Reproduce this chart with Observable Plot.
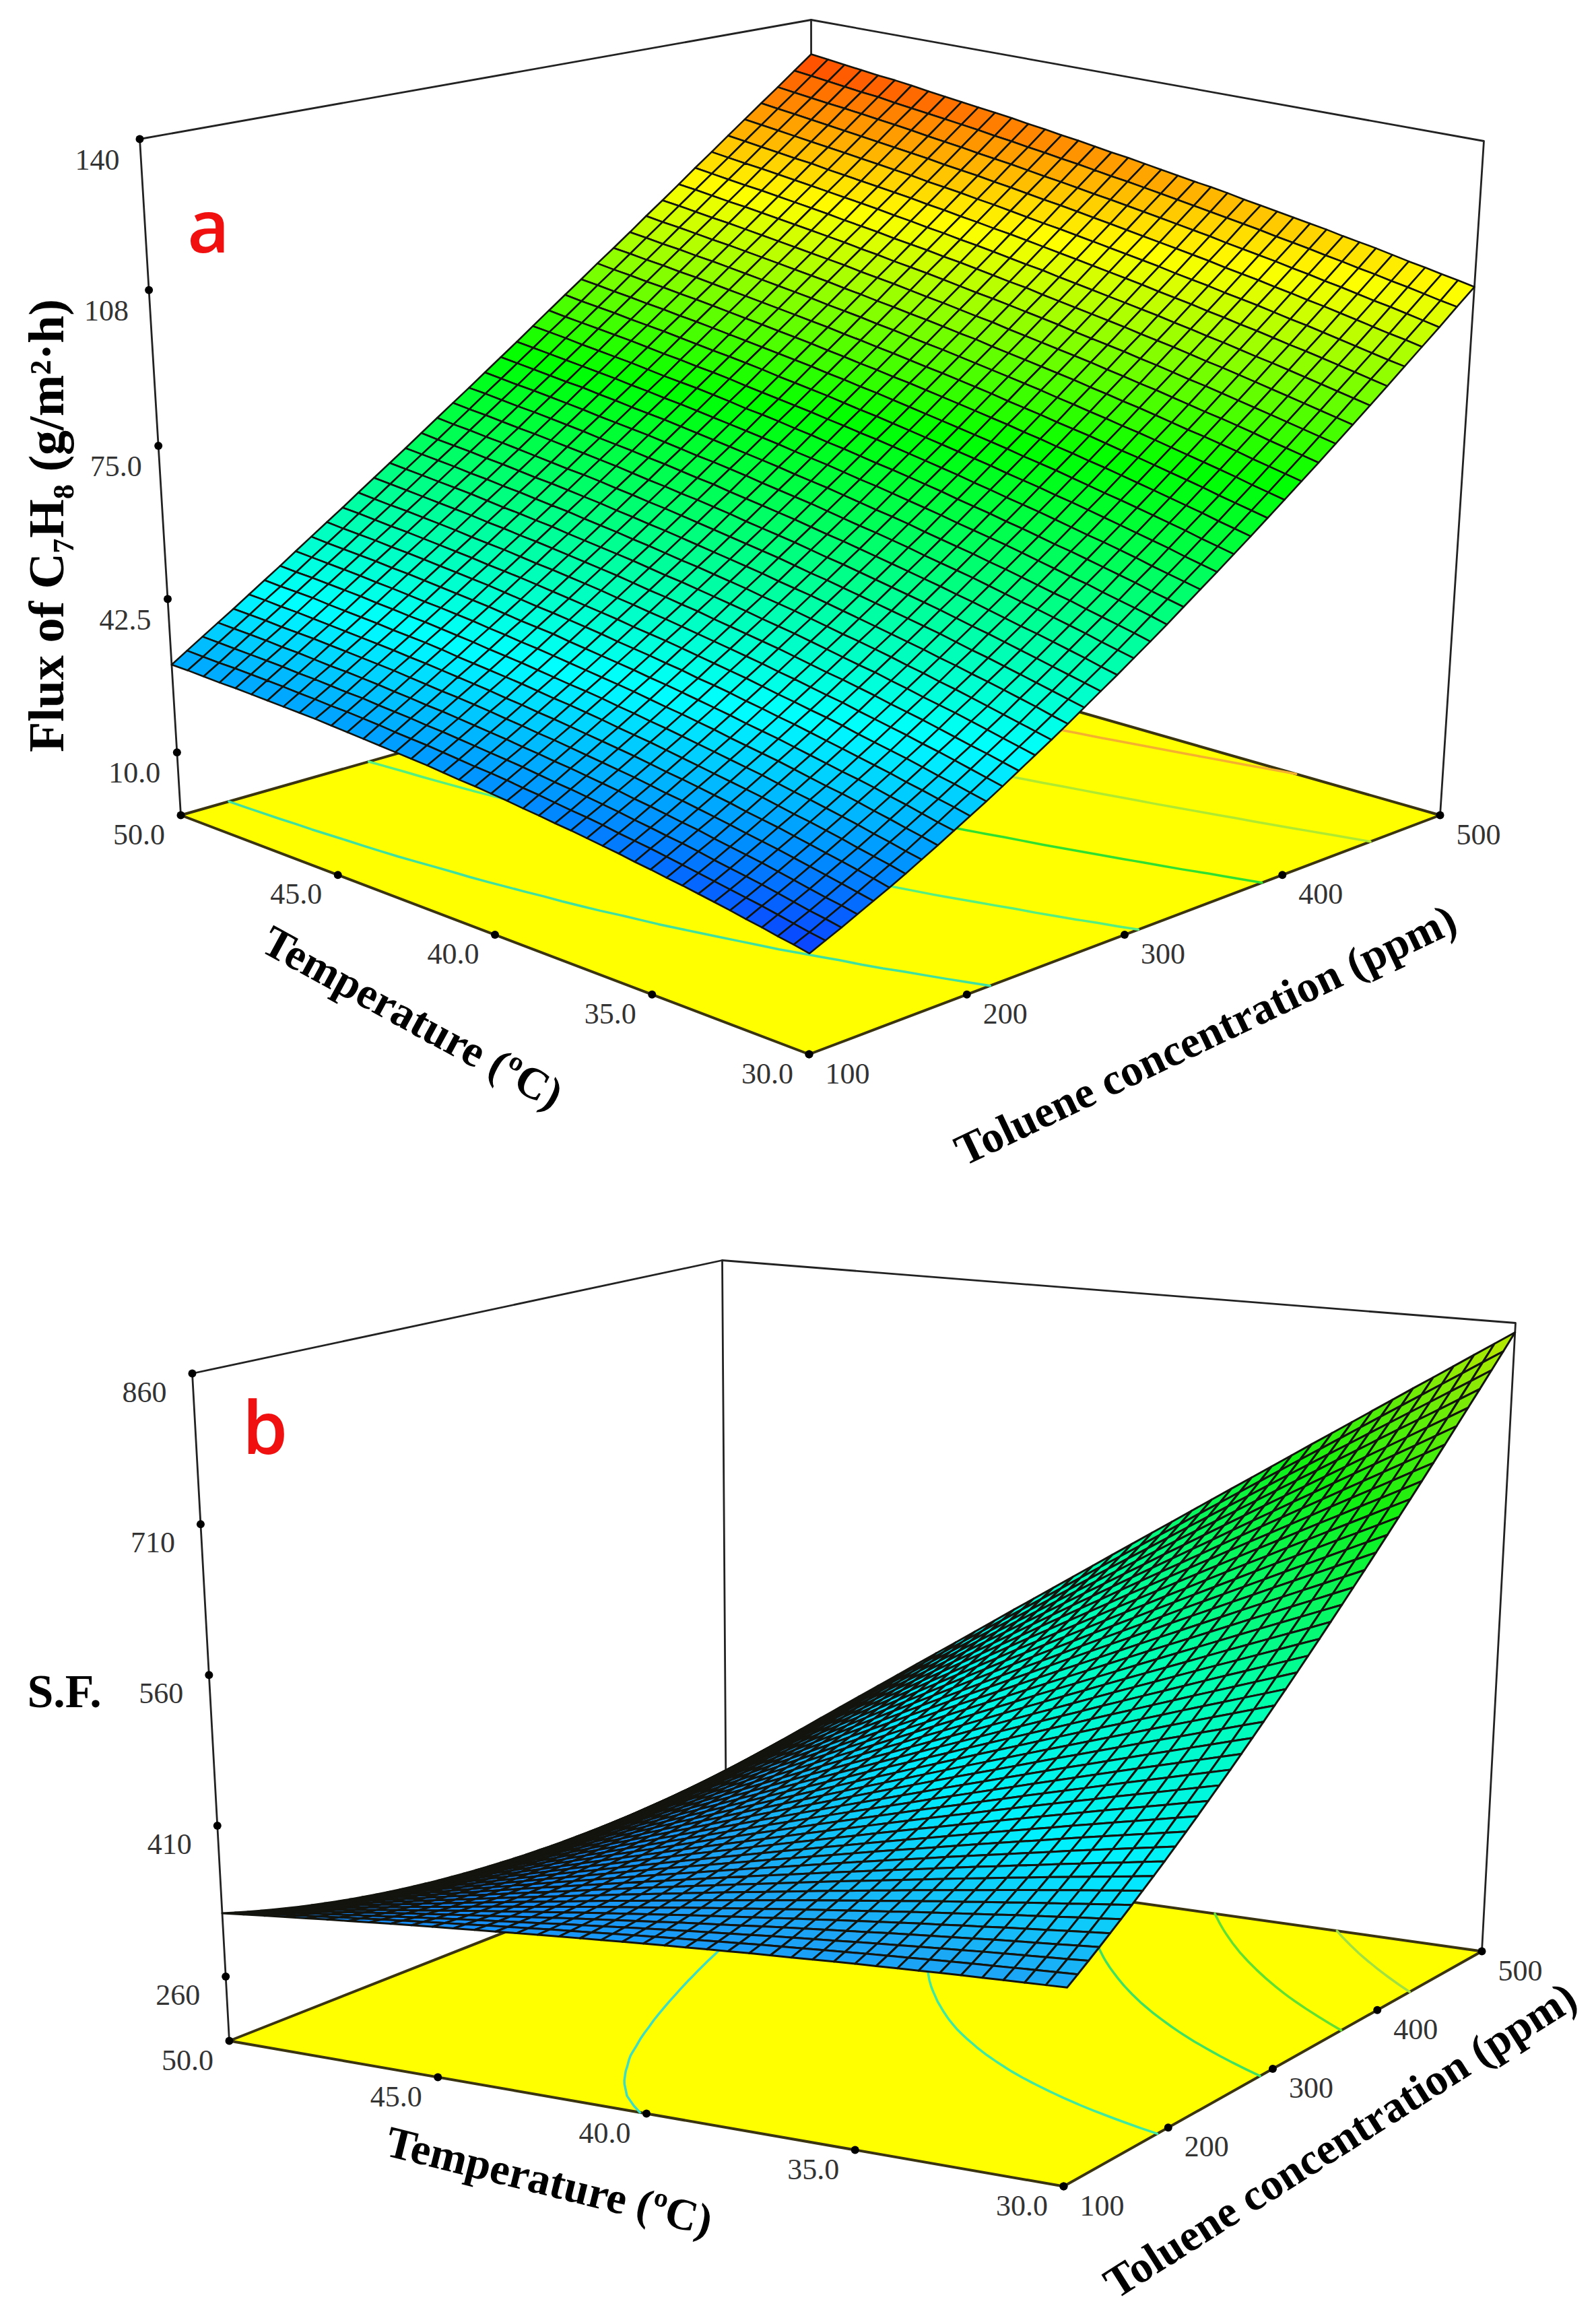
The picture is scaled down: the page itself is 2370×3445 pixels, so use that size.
<!DOCTYPE html>
<html><head><meta charset="utf-8">
<script src="https://cdn.jsdelivr.net/npm/d3@7"></script>
<script src="https://cdn.jsdelivr.net/npm/@observablehq/plot@0.6"></script>
<style>html,body{margin:0;padding:0;background:#fff}svg{display:block}</style></head>
<body><div id="chart"></div>
<script>
const W=2370;
const tempTicks=[50,45,40,35,30];
const concTicks=[100,200,300,400,500];
const fluxTicks=[10,42.5,75,108,140];
const sfTicks=[260,410,560,710,860];
const fluxLevels=[35,55,75,95,115];
const fluxLevelColors=["#3fe0a0","#55ee80","#30e030","#b0ea30","#f5b030"];
const sfLevels=[360,458,560,655,745];
const sfLevelColors=["#40dcc0","#40e8a0","#40e060","#60e030","#a0e040"];
// Estimated surface heights: rows run T = 50 to 30 °C, columns run C = 100 to 500 ppm.
const fluxRows=[
[28.6,30.7,32.8,34.9,37.0,39.2,41.4,43.6,45.9,48.2,50.5,52.8,55.2,57.6,60.0,62.4,64.9,67.4,69.9,72.4,75.0,77.6,80.2,82.9,85.6,88.3,91.0,93.8,96.5,99.3,102.2,105.0,107.9,110.9,113.8,116.8,119.8,122.8,125.8,128.9,132.0],
[28.6,30.6,32.7,34.8,36.9,39.1,41.2,43.4,45.7,47.9,50.2,52.6,54.9,57.3,59.7,62.1,64.5,67.0,69.5,72.1,74.6,77.2,79.8,82.5,85.1,87.8,90.6,93.3,96.1,98.9,101.7,104.6,107.5,110.4,113.3,116.3,119.3,122.3,125.3,128.4,131.5],
[28.5,30.5,32.6,34.7,36.8,38.9,41.1,43.3,45.5,47.7,50.0,52.3,54.6,57.0,59.4,61.8,64.2,66.7,69.2,71.7,74.2,76.8,79.4,82.1,84.7,87.4,90.1,92.9,95.6,98.4,101.3,104.1,107.0,109.9,112.8,115.8,118.8,121.8,124.8,127.9,131.0],
[28.4,30.5,32.5,34.6,36.6,38.8,41.0,43.1,45.3,47.5,49.8,52.0,54.4,56.7,59.1,61.5,63.9,66.3,68.8,71.3,73.9,76.4,79.0,81.6,84.3,87.0,89.7,92.4,95.2,98.0,100.8,103.6,106.5,109.4,112.4,115.3,118.3,121.3,124.3,127.4,130.5],
[28.4,30.4,32.4,34.4,36.5,38.6,40.7,42.9,45.1,47.3,49.5,51.8,54.1,56.4,58.8,61.1,63.5,66.0,68.4,71.0,73.5,76.0,78.6,81.2,83.9,86.5,89.2,92.0,94.7,97.5,100.3,103.2,106.1,109.0,111.9,114.8,117.8,120.8,123.9,126.9,130.0],
[28.3,30.3,32.3,34.3,36.4,38.4,40.5,42.7,44.8,47.0,49.3,51.5,53.8,56.1,58.5,60.8,63.2,65.6,68.1,70.6,73.1,75.7,78.2,80.8,83.5,86.1,88.8,91.5,94.3,97.1,99.9,102.7,105.6,108.5,111.4,114.4,117.3,120.3,123.4,126.5,129.6],
[28.2,30.2,32.1,34.1,36.2,38.2,40.3,42.4,44.6,46.8,49.0,51.2,53.5,55.8,58.1,60.4,62.8,65.2,67.7,70.2,72.7,75.2,77.8,80.4,83.0,85.7,88.3,91.1,93.8,96.6,99.4,102.2,105.1,108.0,110.9,113.8,116.8,119.8,122.9,125.9,129.1],
[28.1,30.0,32.0,33.9,36.0,38.0,40.1,42.2,44.3,46.5,48.7,50.9,53.1,55.4,57.7,60.1,62.4,64.8,67.3,69.8,72.2,74.8,77.3,79.9,82.5,85.2,87.9,90.6,93.3,96.1,98.9,101.7,104.6,107.5,110.4,113.3,116.3,119.3,122.4,125.4,128.5],
[28.0,29.9,31.8,33.8,35.8,37.8,39.8,41.9,44.0,46.2,48.4,50.6,52.8,55.1,57.4,59.7,62.1,64.4,66.9,69.3,71.8,74.3,76.9,79.4,82.1,84.7,87.4,90.1,92.8,95.6,98.4,101.2,104.1,107.0,109.9,112.8,115.8,118.8,121.9,124.9,128.0],
[27.9,29.7,31.6,33.6,35.6,37.6,39.6,41.7,43.8,45.9,48.1,50.2,52.5,54.7,57.0,59.3,61.7,64.1,66.5,68.9,71.4,73.9,76.4,79.0,81.6,84.2,86.9,89.6,92.3,95.1,97.9,100.7,103.6,106.4,109.4,112.3,115.3,118.3,121.3,124.4,127.5],
[27.7,29.6,31.5,33.4,35.4,37.3,39.4,41.4,43.5,45.6,47.8,49.9,52.1,54.4,56.7,59.0,61.3,63.7,66.1,68.5,71.0,73.5,76.0,78.6,81.2,83.8,86.4,89.1,91.8,94.6,97.4,100.2,103.1,105.9,108.9,111.8,114.8,117.8,120.8,123.9,127.0],
[27.5,29.4,31.2,33.1,35.1,37.1,39.1,41.1,43.2,45.3,47.4,49.6,51.7,54.0,56.2,58.5,60.9,63.2,65.6,68.0,70.5,73.0,75.5,78.1,80.7,83.3,85.9,88.6,91.3,94.1,96.9,99.7,102.5,105.4,108.3,111.3,114.2,117.2,120.3,123.4,126.5],
[27.3,29.2,31.0,32.9,34.8,36.8,38.7,40.8,42.8,44.9,47.0,49.2,51.4,53.6,55.8,58.1,60.4,62.8,65.1,67.6,70.0,72.5,75.0,77.6,80.1,82.8,85.4,88.1,90.8,93.5,96.3,99.1,102.0,104.8,107.8,110.7,113.7,116.7,119.7,122.8,126.0],
[27.1,28.9,30.8,32.6,34.5,36.5,38.4,40.4,42.5,44.5,46.6,48.8,51.0,53.2,55.4,57.7,60.0,62.3,64.7,67.1,69.5,72.0,74.5,77.0,79.6,82.2,84.9,87.6,90.3,93.0,95.8,98.6,101.4,104.3,107.2,110.2,113.2,116.2,119.2,122.3,125.4],
[26.9,28.7,30.5,32.4,34.3,36.2,38.1,40.1,42.1,44.2,46.3,48.4,50.6,52.8,55.0,57.2,59.5,61.9,64.2,66.6,69.1,71.5,74.0,76.6,79.1,81.7,84.4,87.0,89.7,92.5,95.2,98.1,100.9,103.8,106.7,109.6,112.6,115.6,118.7,121.7,124.9],
[26.7,28.5,30.3,32.1,34.0,35.9,37.8,39.8,41.8,43.9,45.9,48.0,50.2,52.4,54.6,56.8,59.1,61.4,63.8,66.2,68.6,71.0,73.5,76.1,78.6,81.2,83.8,86.5,89.2,91.9,94.7,97.5,100.4,103.2,106.1,109.1,112.1,115.1,118.1,121.2,124.3],
[26.5,28.2,30.0,31.8,33.7,35.5,37.5,39.4,41.4,43.4,45.5,47.6,49.7,51.9,54.1,56.3,58.6,60.9,63.3,65.6,68.1,70.5,73.0,75.5,78.1,80.7,83.3,85.9,88.6,91.4,94.1,96.9,99.8,102.7,105.6,108.5,111.5,114.5,117.5,120.6,123.8],
[26.2,27.9,29.7,31.5,33.3,35.2,37.1,39.0,41.0,43.0,45.1,47.2,49.3,51.4,53.6,55.8,58.1,60.4,62.8,65.1,67.5,70.0,72.4,75.0,77.5,80.1,82.7,85.4,88.1,90.8,93.6,96.4,99.2,102.1,105.0,108.0,110.9,113.9,117.0,120.1,123.2],
[25.9,27.6,29.4,31.2,33.0,34.8,36.7,38.6,40.6,42.6,44.6,46.7,48.8,51.0,53.2,55.4,57.6,59.9,62.2,64.6,67.0,69.4,71.9,74.4,77.0,79.5,82.2,84.8,87.5,90.2,93.0,95.8,98.6,101.5,104.4,107.4,110.3,113.4,116.4,119.5,122.6],
[25.7,27.4,29.1,30.8,32.6,34.5,36.4,38.3,40.2,42.2,44.2,46.3,48.4,50.5,52.7,54.9,57.1,59.4,61.7,64.1,66.5,68.9,71.4,73.9,76.4,79.0,81.6,84.3,86.9,89.7,92.4,95.2,98.1,100.9,103.8,106.8,109.8,112.8,115.8,118.9,122.1],
[25.4,27.1,28.8,30.5,32.3,34.1,36.0,37.9,39.8,41.8,43.8,45.9,47.9,50.1,52.2,54.4,56.6,58.9,61.2,63.6,66.0,68.4,70.8,73.3,75.9,78.4,81.0,83.7,86.4,89.1,91.9,94.7,97.5,100.4,103.3,106.2,109.2,112.2,115.3,118.4,121.5],
[25.1,26.7,28.4,30.1,31.9,33.7,35.6,37.4,39.4,41.3,43.3,45.4,47.4,49.5,51.7,53.9,56.1,58.4,60.7,63.0,65.4,67.8,70.2,72.7,75.3,77.8,80.4,83.1,85.8,88.5,91.2,94.0,96.9,99.7,102.6,105.6,108.6,111.6,114.7,117.8,120.9],
[24.7,26.4,28.0,29.8,31.5,33.3,35.1,37.0,38.9,40.9,42.9,44.9,46.9,49.0,51.2,53.3,55.5,57.8,60.1,62.4,64.8,67.2,69.7,72.2,74.7,77.2,79.8,82.5,85.2,87.9,90.6,93.4,96.3,99.1,102.0,105.0,108.0,111.0,114.1,117.2,120.3],
[24.4,26.0,27.7,29.4,31.1,32.9,34.7,36.5,38.4,40.4,42.3,44.4,46.4,48.5,50.6,52.8,55.0,57.2,59.5,61.9,64.2,66.6,69.1,71.6,74.1,76.6,79.2,81.9,84.6,87.3,90.0,92.8,95.7,98.5,101.4,104.4,107.4,110.4,113.5,116.6,119.7],
[24.0,25.6,27.3,29.0,30.7,32.5,34.3,36.1,38.0,39.9,41.9,43.9,45.9,48.0,50.1,52.3,54.5,56.7,59.0,61.3,63.7,66.1,68.5,71.0,73.5,76.0,78.6,81.3,83.9,86.7,89.4,92.2,95.0,97.9,100.8,103.8,106.8,109.8,112.9,116.0,119.2],
[23.7,25.3,26.9,28.6,30.3,32.0,33.8,35.6,37.5,39.4,41.4,43.4,45.4,47.5,49.6,51.7,53.9,56.1,58.4,60.7,63.1,65.5,67.9,70.4,72.9,75.4,78.0,80.7,83.3,86.1,88.8,91.6,94.4,97.3,100.2,103.2,106.2,109.2,112.3,115.4,118.6],
[23.3,24.9,26.5,28.1,29.8,31.5,33.3,35.1,37.0,38.9,40.8,42.8,44.8,46.9,49.0,51.1,53.3,55.5,57.8,60.1,62.5,64.8,67.3,69.7,72.2,74.8,77.4,80.0,82.7,85.4,88.2,91.0,93.8,96.7,99.6,102.5,105.5,108.6,111.7,114.8,117.9],
[22.9,24.4,26.0,27.7,29.3,31.1,32.8,34.6,36.4,38.3,40.3,42.2,44.3,46.3,48.4,50.5,52.7,54.9,57.2,59.5,61.8,64.2,66.6,69.1,71.6,74.1,76.7,79.4,82.0,84.8,87.5,90.3,93.2,96.0,99.0,101.9,104.9,108.0,111.0,114.2,117.3],
[22.5,24.0,25.6,27.2,28.9,30.6,32.3,34.1,35.9,37.8,39.7,41.7,43.7,45.7,47.8,50.0,52.1,54.3,56.6,58.9,61.2,63.6,66.0,68.5,70.9,73.5,76.1,78.7,81.4,84.1,86.9,89.7,92.5,95.4,98.3,101.3,104.3,107.3,110.4,113.6,116.7],
[22.0,23.6,25.1,26.7,28.4,30.1,31.8,33.6,35.4,37.3,39.2,41.1,43.1,45.2,47.2,49.4,51.5,53.7,56.0,58.3,60.6,63.0,65.4,67.8,70.3,72.9,75.5,78.1,80.8,83.5,86.2,89.0,91.9,94.8,97.7,100.6,103.6,106.7,109.8,112.9,116.1],
[21.6,23.1,24.7,26.3,27.9,29.6,31.3,33.1,34.9,36.7,38.6,40.6,42.6,44.6,46.7,48.8,50.9,53.1,55.4,57.6,60.0,62.3,64.8,67.2,69.7,72.2,74.8,77.4,80.1,82.8,85.6,88.4,91.2,94.1,97.0,100.0,103.0,106.1,109.2,112.3,115.5],
[21.1,22.6,24.2,25.7,27.4,29.0,30.8,32.5,34.3,36.1,38.0,40.0,41.9,44.0,46.0,48.1,50.3,52.5,54.7,57.0,59.3,61.7,64.1,66.5,69.0,71.6,74.1,76.8,79.4,82.2,84.9,87.7,90.5,93.4,96.4,99.3,102.4,105.4,108.5,111.7,114.9],
[20.7,22.1,23.6,25.2,26.8,28.5,30.2,31.9,33.7,35.5,37.4,39.3,41.3,43.3,45.4,47.5,49.6,51.8,54.0,56.3,58.6,61.0,63.4,65.8,68.3,70.9,73.4,76.1,78.8,81.5,84.2,87.0,89.9,92.8,95.7,98.7,101.7,104.8,107.9,111.0,114.2],
[20.2,21.6,23.1,24.7,26.3,28.0,29.6,31.4,33.1,34.9,36.8,38.7,40.7,42.7,44.7,46.8,49.0,51.1,53.4,55.6,57.9,60.3,62.7,65.2,67.6,70.2,72.8,75.4,78.1,80.8,83.5,86.3,89.2,92.1,95.0,98.0,101.0,104.1,107.2,110.4,113.6],
[19.7,21.1,22.6,24.2,25.8,27.4,29.1,30.8,32.6,34.4,36.2,38.1,40.1,42.1,44.1,46.2,48.3,50.5,52.7,54.9,57.3,59.6,62.0,64.5,67.0,69.5,72.1,74.7,77.4,80.1,82.9,85.7,88.5,91.4,94.4,97.3,100.4,103.5,106.6,109.7,113.0],
[19.2,20.6,22.1,23.6,25.2,26.8,28.5,30.2,32.0,33.8,35.6,37.5,39.4,41.4,43.5,45.5,47.7,49.8,52.0,54.3,56.6,59.0,61.4,63.8,66.3,68.8,71.4,74.0,76.7,79.4,82.2,85.0,87.8,90.7,93.7,96.7,99.7,102.8,105.9,109.1,112.3],
[18.6,20.1,21.5,23.0,24.6,26.2,27.9,29.6,31.3,33.1,34.9,36.8,38.8,40.7,42.8,44.8,47.0,49.1,51.3,53.6,55.9,58.2,60.6,63.1,65.6,68.1,70.7,73.3,76.0,78.7,81.5,84.3,87.1,90.0,93.0,96.0,99.0,102.1,105.2,108.4,111.6],
[18.1,19.5,20.9,22.4,24.0,25.6,27.2,28.9,30.7,32.5,34.3,36.1,38.1,40.0,42.1,44.1,46.3,48.4,50.6,52.9,55.2,57.5,59.9,62.4,64.8,67.4,70.0,72.6,75.2,78.0,80.7,83.5,86.4,89.3,92.3,95.3,98.3,101.4,104.6,107.8,111.0],
[17.5,18.9,20.3,21.8,23.4,25.0,26.6,28.3,30.0,31.8,33.6,35.5,37.4,39.4,41.4,43.4,45.6,47.7,49.9,52.2,54.4,56.8,59.2,61.6,64.1,66.6,69.2,71.8,74.5,77.2,80.0,82.8,85.7,88.6,91.6,94.6,97.6,100.7,103.9,107.1,110.3],
[17.0,18.3,19.8,21.3,22.8,24.4,26.0,27.6,29.4,31.1,33.0,34.8,36.7,38.7,40.7,42.7,44.8,47.0,49.2,51.4,53.7,56.1,58.5,60.9,63.4,65.9,68.5,71.1,73.8,76.5,79.3,82.1,85.0,87.9,90.9,93.9,96.9,100.1,103.2,106.4,109.7],
[16.4,17.8,19.2,20.7,22.2,23.7,25.3,27.0,28.7,30.5,32.3,34.1,36.0,38.0,40.0,42.0,44.1,46.3,48.5,50.7,53.0,55.3,57.7,60.2,62.7,65.2,67.8,70.4,73.1,75.8,78.6,81.4,84.3,87.2,90.2,93.2,96.3,99.4,102.5,105.8,109.0]
];
const sfRows=[
[323.0,319.2,315.5,311.9,308.5,305.3,302.1,299.1,296.3,293.6,291.0,288.6,286.3,284.1,282.1,280.3,278.5,276.9,275.5,274.2,273.0,272.0,271.1,270.3,269.7,269.3,268.9,268.7,268.7,268.8,269.0,269.4,269.9,270.5,271.3,272.3,273.3,274.5,275.9,277.4,279.0],
[325.2,321.7,318.3,315.0,311.9,308.9,306.1,303.4,300.8,298.4,296.2,294.0,292.0,290.2,288.5,286.9,285.5,284.2,283.1,282.1,281.3,280.5,280.0,279.6,279.3,279.1,279.1,279.3,279.5,280.0,280.5,281.2,282.1,283.1,284.2,285.5,286.9,288.5,290.2,292.0,294.0],
[327.4,324.2,321.0,318.1,315.2,312.6,310.0,307.6,305.4,303.2,301.3,299.4,297.8,296.2,294.8,293.6,292.5,291.5,290.7,290.0,289.5,289.1,288.8,288.7,288.8,289.0,289.3,289.8,290.4,291.1,292.1,293.1,294.3,295.6,297.1,298.7,300.5,302.4,304.4,306.6,309.0],
[329.6,326.6,323.8,321.1,318.5,316.1,313.9,311.8,309.8,308.0,306.3,304.8,303.4,302.2,301.1,300.2,299.4,298.7,298.2,297.9,297.7,297.6,297.7,297.9,298.3,298.8,299.4,300.2,301.2,302.3,303.5,304.9,306.4,308.1,309.9,311.9,314.0,316.3,318.7,321.2,323.9],
[331.7,329.0,326.5,324.1,321.8,319.7,317.7,315.9,314.3,312.8,311.4,310.2,309.1,308.2,307.4,306.8,306.3,305.9,305.7,305.7,305.8,306.1,306.5,307.0,307.7,308.5,309.5,310.7,311.9,313.4,314.9,316.7,318.5,320.6,322.7,325.0,327.5,330.1,332.9,335.8,338.8],
[333.8,331.4,329.1,327.0,325.0,323.2,321.6,320.0,318.7,317.5,316.4,315.5,314.7,314.1,313.6,313.3,313.1,313.1,313.2,313.5,313.9,314.5,315.2,316.1,317.1,318.3,319.6,321.0,322.7,324.4,326.3,328.4,330.6,333.0,335.5,338.1,340.9,343.9,347.0,350.3,353.7],
[335.8,333.7,331.7,329.9,328.2,326.7,325.4,324.1,323.1,322.2,321.4,320.8,320.3,320.0,319.8,319.8,319.9,320.2,320.6,321.2,322.0,322.9,323.9,325.1,326.5,328.0,329.6,331.3,333.4,335.4,337.6,340.1,342.6,345.4,348.2,351.2,354.3,357.6,361.1,364.8,368.5],
[337.8,336.0,334.3,332.8,331.3,330.1,329.1,328.1,327.4,326.8,326.3,326.0,325.8,325.8,325.9,326.3,326.7,327.3,328.0,328.9,330.0,331.2,332.6,334.1,335.8,337.6,339.6,341.6,344.0,346.4,348.9,351.7,354.6,357.7,360.9,364.2,367.7,371.3,375.2,379.2,383.3],
[339.8,338.3,336.8,335.6,334.4,333.5,332.8,332.1,331.7,331.4,331.2,331.2,331.3,331.6,332.0,332.7,333.4,334.3,335.4,336.6,338.0,339.5,341.2,343.1,345.1,347.2,349.5,351.9,354.6,357.3,360.2,363.3,366.5,370.0,373.5,377.2,381.0,385.0,389.2,393.6,398.0],
[341.7,340.5,339.3,338.4,337.5,336.9,336.5,336.1,336.0,336.0,336.1,336.4,336.8,337.4,338.1,339.1,340.1,341.3,342.7,344.2,346.0,347.8,349.8,352.0,354.4,356.8,359.4,362.1,365.2,368.2,371.4,374.9,378.4,382.3,386.1,390.2,394.3,398.6,403.2,407.9,412.7],
[343.6,342.6,341.8,341.1,340.6,340.3,340.1,340.0,340.1,340.4,340.9,341.4,342.2,343.1,344.2,345.4,346.8,348.3,350.0,351.9,353.9,356.1,358.4,360.9,363.5,366.3,369.3,372.4,375.7,379.1,382.7,386.5,390.4,394.5,398.7,403.1,407.6,412.3,417.2,422.2,427.4],
[345.4,344.7,344.2,343.7,343.5,343.5,343.6,343.8,344.2,344.8,345.6,346.4,347.5,348.7,350.1,351.6,353.3,355.2,357.2,359.4,361.7,364.2,366.8,369.7,372.6,375.7,379.1,382.5,386.1,389.9,393.8,397.9,402.2,406.6,411.2,415.9,420.8,425.8,431.0,436.4,442.0],
[347.2,346.8,346.5,346.4,346.5,346.7,347.1,347.6,348.3,349.2,350.3,351.4,352.8,354.3,356.0,357.9,359.9,362.0,364.4,366.9,369.5,372.3,375.3,378.4,381.7,385.1,388.8,392.6,396.5,400.6,404.9,409.3,413.9,418.7,423.6,428.7,433.9,439.3,444.9,450.6,456.5],
[348.9,348.8,348.9,349.0,349.4,350.0,350.6,351.5,352.5,353.6,355.0,356.5,358.1,360.0,362.0,364.1,366.4,368.9,371.5,374.3,377.3,380.5,383.7,387.2,390.8,394.6,398.6,402.6,407.0,411.4,416.0,420.8,425.7,430.8,436.1,441.5,447.1,452.8,458.7,464.8,471.1],
[350.7,350.9,351.2,351.7,352.4,353.2,354.1,355.3,356.6,358.0,359.7,361.5,363.4,365.6,367.9,370.4,373.0,375.7,378.7,381.8,385.1,388.6,392.2,395.9,399.9,404.0,408.3,412.7,417.4,422.1,427.1,432.2,437.4,442.9,448.5,454.3,460.2,466.3,472.6,479.0,485.6],
[352.5,353.0,353.6,354.3,355.3,356.4,357.6,359.1,360.7,362.4,364.4,366.5,368.7,371.2,373.8,376.6,379.5,382.6,385.9,389.3,392.9,396.7,400.6,404.7,409.0,413.4,418.1,422.8,427.8,432.9,438.2,443.6,449.2,455.0,461.0,467.1,473.4,479.8,486.4,493.2,500.2],
[354.1,354.9,355.8,356.8,358.0,359.4,360.9,362.7,364.6,366.6,368.9,371.3,373.8,376.6,379.5,382.6,385.9,389.3,392.9,396.6,400.5,404.6,408.9,413.3,417.9,422.6,427.7,432.7,438.0,443.5,449.1,454.8,460.8,466.9,473.3,479.7,486.4,493.1,500.1,507.2,514.6],
[355.7,356.7,357.9,359.2,360.8,362.4,364.2,366.3,368.5,370.8,373.4,376.1,378.9,382.0,385.2,388.7,392.3,396.0,399.9,403.9,408.1,412.5,417.1,421.9,426.8,431.8,437.2,442.6,448.3,454.1,460.0,466.1,472.4,478.8,485.5,492.3,499.3,506.4,513.7,521.2,528.9],
[357.3,358.6,360.1,361.7,363.5,365.4,367.6,369.9,372.4,375.1,377.9,380.9,384.1,387.5,391.0,394.7,398.6,402.6,406.8,411.2,415.8,420.5,425.4,430.5,435.7,441.1,446.8,452.5,458.5,464.6,470.9,477.3,484.0,490.8,497.8,504.9,512.3,519.7,527.4,535.2,543.3],
[358.9,360.4,362.2,364.1,366.3,368.5,370.9,373.6,376.3,379.3,382.4,385.7,389.2,392.9,396.7,400.8,404.9,409.3,413.8,418.5,423.4,428.5,433.6,439.0,444.6,450.4,456.3,462.4,468.8,475.1,481.8,488.6,495.5,502.7,510.0,517.6,525.2,533.1,541.0,549.3,557.6],
[360.5,362.3,364.4,366.6,369.0,371.5,374.2,377.2,380.2,383.5,386.9,390.5,394.3,398.3,402.4,406.8,411.3,415.9,420.8,425.8,431.0,436.4,441.9,447.6,453.6,459.6,465.9,472.3,479.0,485.7,492.7,499.8,507.1,514.6,522.3,530.2,538.2,546.4,554.7,563.3,572.0],
[361.9,364.0,366.4,368.9,371.5,374.3,377.3,380.6,383.9,387.5,391.2,395.1,399.2,403.5,408.0,412.7,417.5,422.4,427.6,432.9,438.4,444.1,450.0,456.0,462.3,468.7,475.3,482.0,489.0,496.1,503.4,510.9,518.5,526.3,534.4,542.6,551.0,559.5,568.2,577.1,586.2],
[363.3,365.7,368.4,371.2,374.1,377.2,380.5,384.0,387.7,391.5,395.6,399.8,404.2,408.8,413.5,418.5,423.6,428.9,434.4,440.0,445.9,451.9,458.1,464.4,471.0,477.8,484.7,491.7,499.1,506.5,514.1,522.0,529.9,538.1,546.5,555.0,563.7,572.6,581.7,590.9,600.4],
[364.7,367.4,370.3,373.4,376.6,380.0,383.6,387.5,391.4,395.6,399.9,404.4,409.1,414.0,419.1,424.4,429.8,435.3,441.2,447.2,453.3,459.6,466.1,472.8,479.8,486.8,494.0,501.5,509.1,516.8,524.9,533.0,541.3,549.8,558.5,567.4,576.5,585.8,595.1,604.8,614.5],
[366.1,369.1,372.3,375.7,379.2,382.9,386.8,390.9,395.2,399.6,404.3,409.1,414.1,419.3,424.6,430.2,435.9,441.8,448.0,454.3,460.8,467.4,474.2,481.2,488.5,495.8,503.4,511.2,519.2,527.2,535.6,544.0,552.7,561.6,570.6,579.9,589.2,598.9,608.6,618.6,628.7],
[367.5,370.8,374.3,378.0,381.7,385.7,389.9,394.3,398.9,403.6,408.6,413.7,419.0,424.5,430.2,436.1,442.1,448.3,454.8,461.4,468.2,475.1,482.3,489.6,497.2,504.9,512.8,520.9,529.2,537.6,546.3,555.1,564.1,573.3,582.7,592.3,602.0,612.0,622.1,632.4,642.9],
[368.7,372.3,376.1,380.1,384.1,388.4,392.9,397.5,402.4,407.4,412.7,418.2,423.8,429.6,435.6,441.8,448.1,454.6,461.4,468.3,475.4,482.7,490.2,497.8,505.7,513.8,522.0,530.4,539.1,547.8,556.8,566.0,575.3,584.9,594.6,604.5,614.6,624.9,635.4,646.0,656.9],
[369.9,373.8,377.9,382.1,386.5,391.0,395.8,400.8,405.9,411.3,416.9,422.6,428.5,434.6,441.0,447.4,454.1,460.9,468.0,475.2,482.7,490.3,498.1,506.0,514.3,522.7,531.2,539.9,549.0,558.0,567.3,576.8,586.5,596.4,606.5,616.8,627.2,637.8,648.7,659.7,670.9],
[371.2,375.3,379.6,384.2,388.8,393.7,398.8,404.0,409.5,415.1,421.0,427.1,433.3,439.7,446.3,453.1,460.1,467.2,474.6,482.2,489.9,497.8,506.0,514.3,522.8,531.5,540.4,549.5,558.8,568.2,577.9,587.7,597.8,608.0,618.4,629.0,639.8,650.8,662.0,673.3,684.9],
[372.4,376.8,381.4,386.2,391.2,396.3,401.7,407.3,413.1,418.9,425.2,431.5,438.0,444.7,451.7,458.7,466.0,473.5,481.2,489.1,497.2,505.4,513.8,522.5,531.4,540.3,549.6,559.0,568.6,578.4,588.4,598.5,609.0,619.5,630.3,641.3,652.4,663.7,675.3,687.0,698.9],
[373.6,378.3,383.2,388.3,393.6,399.0,404.7,410.5,416.6,422.8,429.3,436.0,442.8,449.8,457.0,464.4,472.0,479.8,487.8,496.0,504.4,513.0,521.7,530.7,539.9,549.2,558.8,568.5,578.5,588.6,598.9,609.4,620.2,631.1,642.2,653.5,665.0,676.6,688.6,700.6,712.9],
[374.6,379.6,384.8,390.2,395.8,401.5,407.5,413.6,420.0,426.5,433.3,440.2,447.3,454.7,462.2,469.9,477.8,485.9,494.2,502.7,511.5,520.4,529.4,538.7,548.2,557.9,567.8,577.8,588.2,598.6,609.2,620.1,631.2,642.5,653.9,665.5,677.4,689.4,701.7,714.0,726.7],
[375.7,380.9,386.4,392.1,397.9,404.0,410.2,416.6,423.3,430.1,437.2,444.5,451.9,459.5,467.3,475.4,483.6,492.0,500.6,509.5,518.5,527.7,537.1,546.7,556.5,566.6,576.8,587.2,597.8,608.6,619.6,630.8,642.2,653.8,665.6,677.6,689.8,702.1,714.8,727.5,740.5],
[376.7,382.3,388.0,393.9,400.1,406.4,413.0,419.7,426.7,433.8,441.2,448.7,456.4,464.4,472.5,480.8,489.4,498.1,507.1,516.2,525.6,535.1,544.8,554.8,564.9,575.2,585.8,596.5,607.5,618.6,630.0,641.4,653.2,665.2,677.3,689.6,702.1,714.9,727.8,741.0,754.3],
[377.8,383.6,389.6,395.8,402.2,408.9,415.7,422.7,430.0,437.4,445.1,453.0,461.0,469.3,477.6,486.3,495.2,504.2,513.5,523.0,532.6,542.4,552.5,562.8,573.3,583.9,594.8,605.9,617.1,628.6,640.3,652.1,664.2,676.5,689.0,701.7,714.5,727.6,740.9,754.4,768.1],
[378.8,384.9,391.2,397.7,404.4,411.4,418.5,425.8,433.4,441.1,449.1,457.2,465.5,474.1,482.8,491.8,501.0,510.3,519.9,529.7,539.7,549.8,560.2,570.8,581.6,592.6,603.8,615.2,626.8,638.6,650.6,662.8,675.2,687.9,700.7,713.7,726.9,740.4,754.0,767.8,781.9],
[379.6,386.0,392.6,399.4,406.4,413.7,421.1,428.7,436.6,444.6,452.9,461.3,469.9,478.8,487.8,497.1,506.6,516.2,526.1,536.3,546.6,557.0,567.7,578.6,589.8,601.1,612.6,624.3,636.3,648.4,660.8,673.3,686.0,699.1,712.2,725.6,739.1,753.0,766.9,781.1,795.5],
[380.5,387.1,394.0,401.1,408.4,416.0,423.7,431.6,439.7,448.1,456.6,465.3,474.3,483.5,492.8,502.4,512.2,522.1,532.4,542.9,553.4,564.2,575.2,586.5,598.0,609.6,621.4,633.5,645.8,658.2,671.0,683.8,696.9,710.2,723.7,737.4,751.3,765.5,779.8,794.4,809.1],
[381.3,388.3,395.4,402.8,410.4,418.3,426.3,434.4,442.9,451.5,460.4,469.4,478.7,488.1,497.8,507.7,517.8,528.1,538.6,549.4,560.3,571.4,582.7,594.3,606.1,618.1,630.2,642.6,655.2,668.1,681.1,694.3,707.7,721.4,735.2,749.3,763.5,778.0,792.7,807.7,822.8],
[382.2,389.4,396.8,404.5,412.4,420.5,428.9,437.3,446.0,455.0,464.1,473.4,483.1,492.8,502.8,513.0,523.4,534.0,544.9,556.0,567.1,578.6,590.3,602.2,614.2,626.6,639.1,651.8,664.7,677.9,691.2,704.8,718.5,732.6,746.8,761.2,775.7,790.6,805.6,821.0,836.4],
[383.0,390.5,398.3,406.2,414.4,422.8,431.4,440.2,449.2,458.4,467.9,477.5,487.4,497.5,507.8,518.3,529.0,539.9,551.1,562.5,574.0,585.8,597.8,610.0,622.4,635.0,647.9,660.9,674.2,687.7,701.4,715.3,729.4,743.7,758.3,773.1,788.0,803.2,818.6,834.2,850.0]
];

const bilinear=q=>(u,v)=>[0,1].map(k=>(1-v)*((1-u)*q[0][k]+u*q[1][k])+v*((1-u)*q[3][k]+u*q[2][k]));

function panel(o){
 const fl=bilinear(o.floor),tp=bilinear(o.top);
 const uOf=c=>(c-100)/400, vOf=t=>(50-t)/20, wOf=z=>(z-o.zMin)/(o.zMax-o.zMin);
 const P=(u,v,w)=>{const f=fl(u,v),t=tp(u,v);return [f[0]+(t[0]-f[0])*w,f[1]+(t[1]-f[1])*w]};
 const rows=o.rows,N=rows.length-1;
 const cells=[];
 const order=[];
 for(let j=0;j<N;j++)for(let i=0;i<N;i++)order.push([i,j]);
 order.sort((a,b)=>(b[0]-b[1])-(a[0]-a[1]));
 order.forEach(([i,j],k)=>{
  const vs=[[i,j],[i+1,j],[i+1,j+1],[i,j+1],[i,j]];
  const val=(rows[j][i]+rows[j][i+1]+rows[j+1][i]+rows[j+1][i+1])/4;
  for(const [a,b] of vs){const p=P(a/N,b/N,wOf(rows[b][a]));cells.push({x:p[0],y:p[1],id:k,val})}
 });
 const path=(pts,id=0)=>pts.map(([u,v,w])=>{const p=P(u,v,w);return {x:p[0],y:p[1],id}});
 const wall=[...path([[0,0,0],[0,0,1],[1,0,1],[1,1,1],[1,1,0]],0),...path([[1,0,1],[1,0,0]],1)];
 const floor=path([[0,0,0],[1,0,0],[1,1,0],[0,1,0],[0,0,0]]);
 const flat=rows.flat();
 const gen=d3.contours().size([N+1,N+1]);
 const iso=(L)=>{const out=[];let id=0;
  for(const poly of gen.contour(flat,L).coordinates)for(const ring of poly){
   const ok=p=>p[0]>=0.49&&p[0]<=N+.51&&p[1]>=0.49&&p[1]<=N+.51;
   let s=ring.findIndex(p=>!ok(p)); if(s<0)s=0;
   const r=[...ring.slice(s),...ring.slice(0,s)];
   let prev=false;
   for(const p of r){const k=ok(p);if(k){if(!prev)id++;const q=P((p[0]-.5)/N,(p[1]-.5)/N,0);out.push({x:q[0],y:q[1],id})}prev=k}
  }
  return out};
 const zTicks=o.zTicks.map(z=>{const p=P(0,0,wOf(z));return {x:p[0],y:p[1],t:o.zFmt(z)}});
 const tTicks=o.tTicks.map(t=>{const p=P(0,vOf(t),0);return {x:p[0],y:p[1],t:t.toFixed(1)}});
 const cTicks=o.cTicks.map(c=>{const p=P(uOf(c),1,0);return {x:p[0],y:p[1],t:String(c)}});
 const tick=(d)=>Plot.dot(d,{x:"x",y:"y",r:6,fill:"#000"});
 const lab=(d,dx,dy)=>Plot.text(d,{x:"x",y:"y",text:"t",dx,dy,fontFamily:"Liberation Serif",fontSize:44,fill:"#333"});
 const ser={fontFamily:"Liberation Serif",fontWeight:"bold",fill:"#000"};
 return Plot.plot({width:W,height:o.y1-o.y0,margin:0,
  x:{domain:[0,W],range:[0,W],axis:null},y:{domain:[o.y0,o.y1],range:[0,o.y1-o.y0],axis:null},
  color:{type:"linear",domain:o.cDomain,range:o.cRange},
  marks:[
   Plot.line(wall,{x:"x",y:"y",z:"id",stroke:"#222",strokeWidth:2.8}),
   Plot.line(floor,{x:"x",y:"y",fill:"#ffff00",stroke:"#3a3410",strokeWidth:4}),
   ...o.levels.map((L,i)=>Plot.line(iso(L),{x:"x",y:"y",z:"id",stroke:o.levelColors[i],strokeWidth:3.5})),
   Plot.line(cells,{x:"x",y:"y",z:"id",fill:"val",stroke:"#14140f",strokeWidth:o.sw}),
   tick(zTicks),tick(tTicks),tick(cTicks),
   lab(zTicks,o.zd[0],o.zd[1]),lab(tTicks,-62,29),lab(cTicks,57,29),
   ...o.titles.map(t=>Plot.text([t],{x:"x",y:"y",text:"s",rotate:"r",fontSize:t.size,...ser})),
   Plot.text([o.tag],{x:"x",y:"y",text:"s",fontFamily:"Open Sans",fontWeight:600,fontSize:o.tag.size,fill:"#f01010"})
  ]});
}
const root=document.getElementById("chart");
root.append(panel({y0:0,y1:1790,rows:fluxRows,zMin:-3.3,zMax:140,sw:2.6,
 floor:[[268,1210],[1205,943],[2138,1210],[1201,1565]],
 top:[[207,206],[1204,29],[2203,209],[1205,476]],
 zTicks:fluxTicks,zFmt:z=>z>=100?String(z):z.toFixed(1),zd:[-63,31],tTicks:tempTicks,cTicks:concTicks,
 levels:fluxLevels,levelColors:fluxLevelColors,
 cDomain:[16,26,40,78,108,132],cRange:["#0a3cff","#0090ff","#00ffff","#00ff00","#ffff00","#ff4500"],
 titles:[{x:70,y:780,r:-90,s:"Flux of C₇H₈ (g/m²·h)",size:74},
  {x:612,y:1511,r:28.6,s:"Temperature (ºC)",size:66},
  {x:1790,y:1537,r:-25.5,s:"Toluene concentration (ppm)",size:66}],
 tag:{x:309,y:340,s:"a",size:108}}));
root.append(panel({y0:1790,y1:3445,rows:sfRows,zMin:196,zMax:860,sw:3,
 floor:[[340,3030],[1078,2739],[2200,2897],[1579,3246]],
 top:[[285,2039],[1072,1871],[2250,1964],[1597,2198]],
 zTicks:sfTicks,zFmt:z=>String(z),zd:[-71,28],tTicks:tempTicks,cTicks:concTicks,
 levels:sfLevels,levelColors:sfLevelColors,
 cDomain:[270,383,450,560,700,850],cRange:["#0a64ff","#1ca6f5","#00f0ff","#00ffb0","#10f010","#c0e800"],
 titles:[{x:95,y:2512,r:0,s:"S.F.",size:70},
  {x:815,y:3239,r:14,s:"Temperature (ºC)",size:66},
  {x:1990,y:3178,r:-32.4,s:"Toluene concentration (ppm)",size:66}],
 tag:{x:393,y:2124,s:"b",size:108}}));
</script></body></html>
